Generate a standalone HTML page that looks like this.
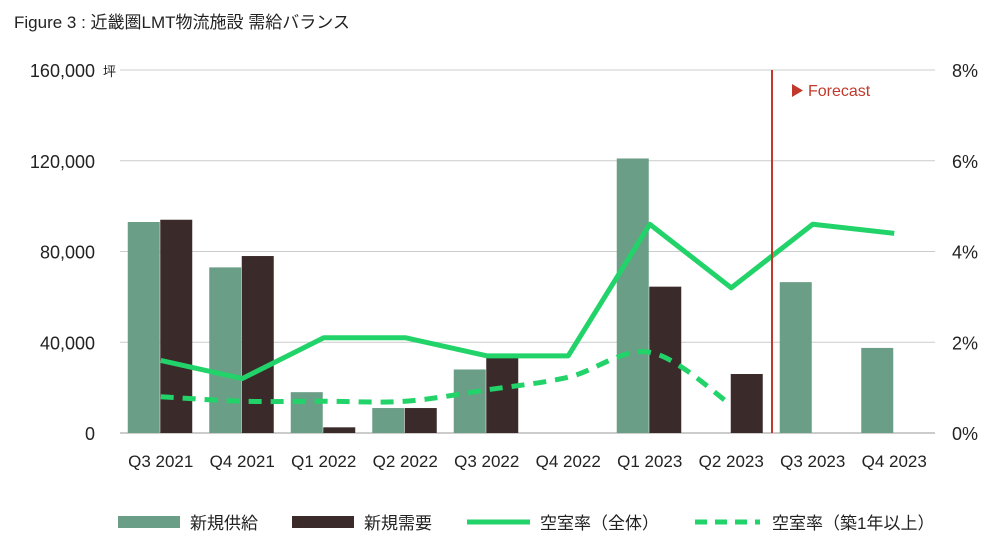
<!DOCTYPE html>
<html><head><meta charset="utf-8"><style>
body{margin:0;background:#fff;font-family:"Liberation Sans","Noto Sans CJK JP",sans-serif}
svg text{font-family:"Liberation Sans","Noto Sans CJK JP",sans-serif}
</style></head><body>
<svg id="c" width="1000" height="551" viewBox="0 0 1000 551">
<text x="14" y="28" font-size="17" fill="#222">Figure 3 : 近畿圏LMT物流施設 需給バランス</text>
<g id="grid"></g><g id="bars"></g><g id="lines"></g><g id="axes"></g>
<line x1="772" y1="70" x2="772" y2="433" stroke="#c0392b" stroke-width="2"/>
<polygon points="792,84 792,97 803,90.5" fill="#c0392b"/>
<text x="808" y="96" font-size="16" fill="#c0392b">Forecast</text>
<g>
<rect x="118" y="516" width="62" height="12" fill="#6a9e86"/>
<text x="190" y="529" font-size="17" fill="#222">新規供給</text>
<rect x="292" y="516" width="62" height="12" fill="#3a2a2a"/>
<text x="364" y="529" font-size="17" fill="#222">新規需要</text>
<line x1="467" y1="522" x2="530" y2="522" stroke="#22d36a" stroke-width="5"/>
<text x="540" y="529" font-size="17" fill="#222">空室率（全体）</text>
<line x1="695" y1="522" x2="760" y2="522" stroke="#22d36a" stroke-width="5" stroke-dasharray="12,8"/>
<text x="772" y="529" font-size="17" fill="#222">空室率（築1年以上）</text>
</g>
</svg>
<script>
const categories=["Q3 2021","Q4 2021","Q1 2022","Q2 2022","Q3 2022","Q4 2022","Q1 2023","Q2 2023","Q3 2023","Q4 2023"];
const supply=[93000,73000,18000,11000,28000,0,121000,0,66500,37500];
const demand=[94000,78000,2500,11000,33500,0,64500,26000,0,0];
const vacancyAll=[1.6,1.2,2.1,2.1,1.7,1.7,4.6,3.2,4.6,4.4];
const vacancyNew=[0.8,0.7,0.7,0.7,0.95,1.23,1.78,0.62,null,null];
const leftTicks=[0,40000,80000,120000,160000];
const leftTickLabels=["0","40,000","80,000","120,000","160,000"];
const rightTicks=[0,2,4,6,8];
const rightTickLabels=["0%","2%","4%","6%","8%"];
const NS="http://www.w3.org/2000/svg";
const X0=120,X1=935,Y0=433,Y1=70,bw=(X1-X0)/categories.length;
const yL=v=>Y0-(v/160000)*(Y0-Y1);
const yR=v=>Y0-(v/8)*(Y0-Y1);
const xc=i=>X0+bw*(i+0.5);
function mk(t,a,p){const e=document.createElementNS(NS,t);for(const k in a)e.setAttribute(k,a[k]);p.appendChild(e);return e;}
const g=document.getElementById('grid'),b=document.getElementById('bars'),l=document.getElementById('lines'),ax=document.getElementById('axes');
leftTicks.forEach((v,i)=>{
 const ln=mk('line',{x1:X0,x2:X1,y1:yL(v),y2:yL(v),stroke:i==0?'#999':'#ccc','stroke-width':1},g);
 
 
 const t=mk('text',{x:95,y:yL(v)+7,'font-size':18,fill:'#222','text-anchor':'end'},ax);t.textContent=leftTickLabels[i];
 
 
});
const u=mk('text',{x:103,y:yL(160000)+6,'font-size':13,fill:'#222'},ax);u.textContent='坪';


rightTicks.forEach((v,i)=>{
 const t=mk('text',{x:952,y:yR(v)+7,'font-size':18,fill:'#222'},ax);t.textContent=rightTickLabels[i];
 
 
});
categories.forEach((c,i)=>{
 const t=mk('text',{x:xc(i),y:467,'font-size':17,fill:'#222','text-anchor':'middle'},ax);t.textContent=c;
 
 
 if(supply[i]>0){const r=mk('rect',{x:xc(i)-33,y:yL(supply[i]),width:32,height:Y0-yL(supply[i]),fill:'#6a9e86'},b);
  
  }
 if(demand[i]>0){const r=mk('rect',{x:xc(i)-0.5,y:yL(demand[i]),width:32,height:Y0-yL(demand[i]),fill:'#3a2a2a'},b);
  
  }
});
const pa=vacancyAll.map((v,i)=>xc(i)+','+yR(v)).join(' ');
const p1=mk('polyline',{points:pa,fill:'none',stroke:'#22d36a','stroke-width':5,'stroke-linejoin':'round'},l);


const pts=vacancyNew.map((v,i)=>v==null?null:[xc(i),yR(v)]).filter(p=>p);
let d='M'+pts[0][0]+','+pts[0][1];
for(let i=0;i<pts.length-1;i++){
 const p0=pts[Math.max(i-1,0)],pA=pts[i],pB=pts[i+1],p3=pts[Math.min(i+2,pts.length-1)];
 const c1=[pA[0]+(pB[0]-p0[0])/6,pA[1]+(pB[1]-p0[1])/6],c2=[pB[0]-(p3[0]-pA[0])/6,pB[1]-(p3[1]-pA[1])/6];
 d+=' C'+c1+' '+c2+' '+pB;
}
const p2=mk('path',{d:d,fill:'none',stroke:'#22d36a','stroke-width':5,'stroke-dasharray':'13,9'},l);


</script>
</body></html>
